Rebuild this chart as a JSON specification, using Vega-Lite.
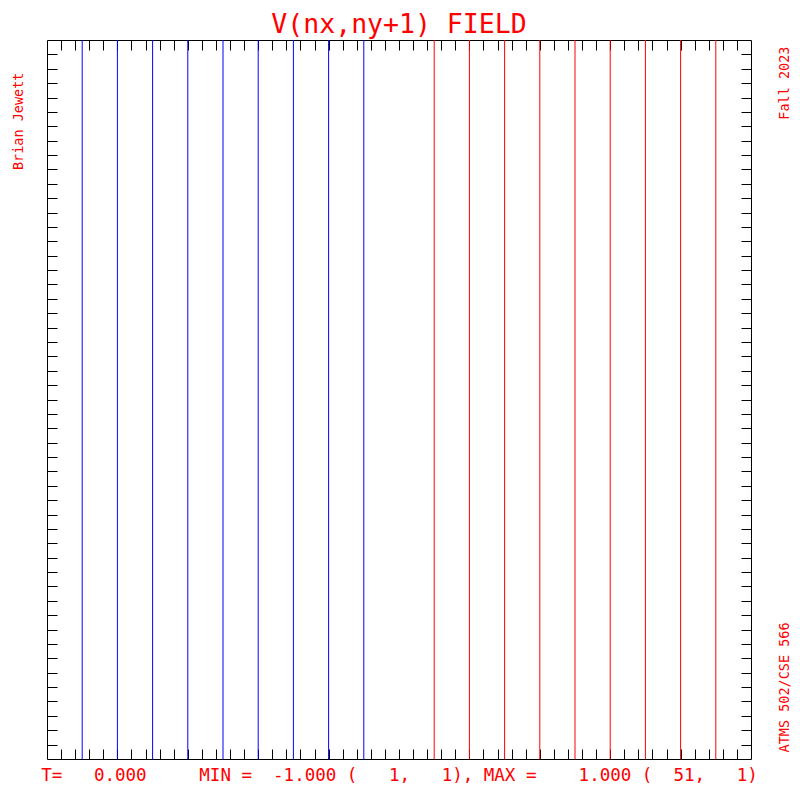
{
  "$schema": "https://vega.github.io/schema/vega-lite/v6.json",
  "autosize": {"type": "none"},
  "width": 704,
  "height": 719,
  "padding": {"left": 47, "top": 40, "right": 49, "bottom": 41},
  "background": "white",
  "title": {
    "text": "V(nx,ny+1) FIELD",
    "color": "#ff0000",
    "font": "DejaVu Sans Mono",
    "fontSize": 26.5,
    "fontWeight": "normal",
    "anchor": "middle",
    "frame": "group",
    "baseline": "alphabetic",
    "offset": 6.5,
    "dy": 28.5
  },
  "config": {
    "view": {"stroke": "black", "strokeWidth": 1},
    "axis": {"grid": false, "tickColor": "black", "tickWidth": 1, "domain": false, "labels": false}
  },
  "datasets": {
    "contours": [
      {"level": -0.9, "gridX": 3.5, "sign": "neg"},
      {"level": -0.8, "gridX": 6, "sign": "neg"},
      {"level": -0.7, "gridX": 8.5, "sign": "neg"},
      {"level": -0.6, "gridX": 11, "sign": "neg"},
      {"level": -0.5, "gridX": 13.5, "sign": "neg"},
      {"level": -0.4, "gridX": 16, "sign": "neg"},
      {"level": -0.3, "gridX": 18.5, "sign": "neg"},
      {"level": -0.2, "gridX": 21, "sign": "neg"},
      {"level": -0.1, "gridX": 23.5, "sign": "neg"},
      {"level": 0.1, "gridX": 28.5, "sign": "pos"},
      {"level": 0.2, "gridX": 31, "sign": "pos"},
      {"level": 0.3, "gridX": 33.5, "sign": "pos"},
      {"level": 0.4, "gridX": 36, "sign": "pos"},
      {"level": 0.5, "gridX": 38.5, "sign": "pos"},
      {"level": 0.6, "gridX": 41, "sign": "pos"},
      {"level": 0.7, "gridX": 43.5, "sign": "pos"},
      {"level": 0.8, "gridX": 46, "sign": "pos"},
      {"level": 0.9, "gridX": 48.5, "sign": "pos"}
    ],
    "corners": [
      {"gx": 1, "gy": 1},
      {"gx": 51, "gy": 51}
    ]
  },
  "resolve": {"axis": {"x": "independent", "y": "independent"}},
  "layer": [
    {
      "data": {"name": "contours"},
      "mark": {"type": "rule", "strokeWidth": 1},
      "encoding": {
        "x": {
          "field": "gridX",
          "type": "quantitative",
          "scale": {"domain": [1, 51], "nice": false, "zero": false},
          "axis": {
            "orient": "bottom",
            "values": [2,3,4,5,6,7,8,9,10,11,12,13,14,15,16,17,18,19,20,21,22,23,24,25,26,27,28,29,30,31,32,33,34,35,36,37,38,39,40,41,42,43,44,45,46,47,48,49,50],
            "tickSize": -10,
            "title": "T=\u00a0\u00a0\u00a00.000\u00a0\u00a0\u00a0\u00a0\u00a0MIN\u00a0=\u00a0\u00a0-1.000\u00a0(\u00a0\u00a0\u00a01,\u00a0\u00a0\u00a01),\u00a0MAX\u00a0=\u00a0\u00a0\u00a0\u00a01.000\u00a0(\u00a0\u00a051,\u00a0\u00a0\u00a01)",
            "titleColor": "#ff0000",
            "titleFont": "DejaVu Sans Mono",
            "titleFontSize": 17.5,
            "titleFontWeight": "normal",
            "titleBaseline": "alphabetic",
            "titlePadding": 21
          }
        },
        "color": {
          "field": "sign",
          "type": "nominal",
          "scale": {"domain": ["neg", "pos"], "range": ["#0000ff", "#ff0000"]},
          "legend": null
        }
      }
    },
    {
      "data": {"name": "corners"},
      "mark": {"type": "point", "opacity": 0},
      "encoding": {
        "x": {
          "field": "gx",
          "type": "quantitative",
          "scale": {"domain": [1, 51], "nice": false, "zero": false},
          "axis": {
            "orient": "top",
            "values": [2,3,4,5,6,7,8,9,10,11,12,13,14,15,16,17,18,19,20,21,22,23,24,25,26,27,28,29,30,31,32,33,34,35,36,37,38,39,40,41,42,43,44,45,46,47,48,49,50],
            "tickSize": -10,
            "title": null
          }
        },
        "y": {
          "field": "gy",
          "type": "quantitative",
          "scale": {"domain": [1, 51], "nice": false, "zero": false},
          "axis": {
            "orient": "left",
            "values": [2,3,4,5,6,7,8,9,10,11,12,13,14,15,16,17,18,19,20,21,22,23,24,25,26,27,28,29,30,31,32,33,34,35,36,37,38,39,40,41,42,43,44,45,46,47,48,49,50],
            "tickSize": -10,
            "title": "Brian Jewett",
            "titleColor": "#ff0000",
            "titleFont": "DejaVu Sans Mono",
            "titleFontSize": 13.5,
            "titleFontWeight": "normal",
            "titleAngle": 270,
            "titleAnchor": "end",
            "titleAlign": "right",
            "titleBaseline": "bottom",
            "titleY": 32,
            "titlePadding": 21
          }
        }
      }
    },
    {
      "data": {"name": "corners"},
      "mark": {"type": "point", "opacity": 0},
      "encoding": {
        "x": {
          "field": "gx",
          "type": "quantitative",
          "scale": {"domain": [1, 51], "nice": false, "zero": false},
          "axis": null
        },
        "y": {
          "field": "gy",
          "type": "quantitative",
          "scale": {"domain": [1, 51], "nice": false, "zero": false},
          "axis": {
            "orient": "right",
            "values": [2,3,4,5,6,7,8,9,10,11,12,13,14,15,16,17,18,19,20,21,22,23,24,25,26,27,28,29,30,31,32,33,34,35,36,37,38,39,40,41,42,43,44,45,46,47,48,49,50],
            "tickSize": -10,
            "title": "Fall 2023",
            "titleColor": "#ff0000",
            "titleFont": "DejaVu Sans Mono",
            "titleFontSize": 13.5,
            "titleFontWeight": "normal",
            "titleAngle": 270,
            "titleAnchor": "end",
            "titleAlign": "right",
            "titleBaseline": "top",
            "titleY": 6,
            "titlePadding": 26
          }
        }
      }
    },
    {
      "data": {"name": "corners"},
      "mark": {"type": "point", "opacity": 0},
      "encoding": {
        "x": {
          "field": "gx",
          "type": "quantitative",
          "scale": {"domain": [1, 51], "nice": false, "zero": false},
          "axis": null
        },
        "y": {
          "field": "gy",
          "type": "quantitative",
          "scale": {"domain": [1, 51], "nice": false, "zero": false},
          "axis": {
            "orient": "right",
            "ticks": false,
            "title": "ATMS 502/CSE 566",
            "titleColor": "#ff0000",
            "titleFont": "DejaVu Sans Mono",
            "titleFontSize": 13.5,
            "titleFontWeight": "normal",
            "titleAngle": 270,
            "titleAnchor": "start",
            "titleAlign": "left",
            "titleBaseline": "top",
            "titleY": 712,
            "titlePadding": 26
          }
        }
      }
    }
  ]
}
